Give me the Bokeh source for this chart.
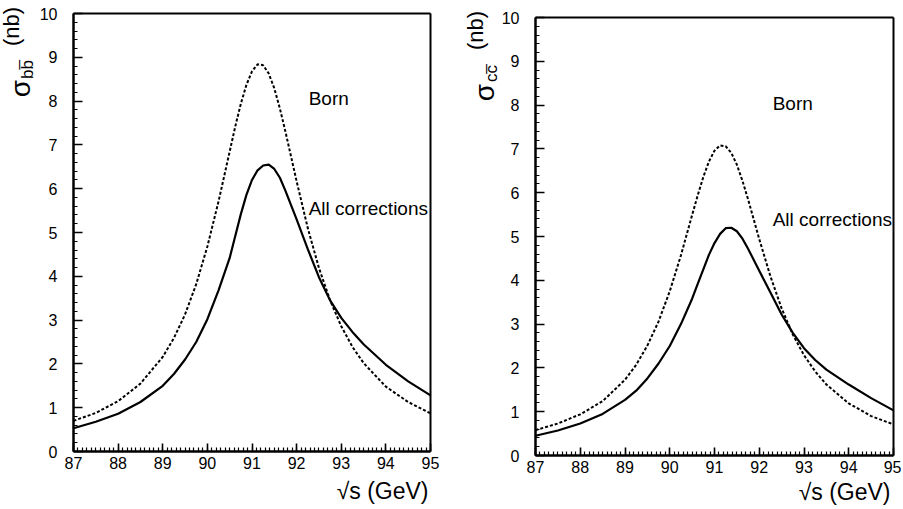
import math
from bokeh.plotting import figure
from bokeh.layouts import row
from bokeh.models import Label, Range1d, SingleIntervalTicker, LinearAxis
from bokeh.embed import file_html
from bokeh.resources import INLINE

# sqrt(s) grid (GeV)
energy = [87, 87.5, 88, 88.5, 89, 89.25, 89.5, 89.75, 90, 90.25, 90.5, 90.625,
          90.75, 90.875, 91, 91.125, 91.25, 91.375, 91.5, 91.625, 91.75, 92,
          92.25, 92.5, 92.75, 93, 93.25, 93.5, 94, 94.5, 95]

# b-bbar cross section (nb)
bb_born = [0.70, 0.88, 1.15, 1.55, 2.16, 2.59, 3.13, 3.82, 4.68, 5.71, 6.85, 7.42,
           7.94, 8.37, 8.68, 8.84, 8.82, 8.63, 8.29, 7.83, 7.30, 6.17,
           5.10, 4.19, 3.45, 2.86, 2.39, 2.02, 1.48, 1.13, 0.87]
bb_corr = [0.53, 0.68, 0.86, 1.13, 1.50, 1.77, 2.10, 2.50, 3.02, 3.68, 4.42, 4.92,
           5.42, 5.86, 6.20, 6.42, 6.53, 6.55, 6.45, 6.25, 5.95, 5.30,
           4.62, 3.98, 3.45, 3.05, 2.73, 2.45, 1.98, 1.60, 1.28]

# c-cbar cross section (nb)
cc_born = [0.58, 0.73, 0.94, 1.24, 1.73, 2.07, 2.51, 3.06, 3.75, 4.57, 5.49, 5.94,
           6.36, 6.71, 6.96, 7.08, 7.06, 6.91, 6.64, 6.27, 5.85, 4.94,
           4.09, 3.36, 2.76, 2.29, 1.92, 1.62, 1.19, 0.90, 0.71]
cc_corr = [0.45, 0.57, 0.73, 0.95, 1.27, 1.48, 1.76, 2.10, 2.50, 3.00, 3.58, 3.92,
           4.25, 4.58, 4.85, 5.06, 5.19, 5.20, 5.12, 4.95, 4.72, 4.22,
           3.72, 3.22, 2.80, 2.45, 2.18, 1.96, 1.62, 1.31, 1.03]

x_min, x_max = 87, 95
y_min, y_max = 0, 10
x_label = "\u221as (GeV)"
label_born = "Born"
label_corr = "All corrections"

FONT = "Liberation Sans"


def frame_axis(loc, bounds, ticker, show_labels, tin, tmin, lw):
    ax = LinearAxis(fixed_location=loc, bounds=bounds, ticker=ticker,
                    axis_line_width=lw, axis_line_color="black",
                    major_tick_in=tin, major_tick_out=0,
                    minor_tick_in=tmin, minor_tick_out=0,
                    major_tick_line_width=1.6, minor_tick_line_width=1.2,
                    major_tick_line_color="black", minor_tick_line_color="black",
                    major_label_text_font=FONT, major_label_text_font_size="16px",
                    major_label_text_color="black")
    if not show_labels:
        ax.major_label_text_color = None
        ax.major_tick_line_color = None
        ax.minor_tick_line_color = None
    return ax


def panel(born, corr, sub, W, H, box_left, box_right, box_top, box_bottom,
          ylab_pos, xlab_pos, born_pos, corr_pos):
    # the frame covers the whole canvas; the data box is placed inside it
    sx = (box_right - box_left) / (x_max - x_min)
    sy = (box_bottom - box_top) / (y_max - y_min)
    xr = Range1d(x_min - box_left / sx, x_max + (W - box_right) / sx)
    yr = Range1d(y_min - (H - box_bottom) / sy, y_max + box_top / sy)
    p = figure(frame_width=W, frame_height=H, x_range=xr, y_range=yr,
               output_backend="svg", toolbar_location=None,
               x_axis_location=None, y_axis_location=None,
               min_border_left=0, min_border_right=0,
               min_border_top=0, min_border_bottom=0)
    p.grid.visible = False
    p.outline_line_color = None
    p.background_fill_color = "white"
    p.border_fill_color = "white"

    p.line(energy, born, line_color="black", line_width=2, line_dash="3 2")
    p.line(energy, corr, line_color="black", line_width=2.2)

    xt = SingleIntervalTicker(interval=1, num_minor_ticks=10)
    yt = SingleIntervalTicker(interval=1, num_minor_ticks=5)
    xa = frame_axis(y_min, (x_min, x_max), xt, True, 8, 4, 2.5)
    xa.major_label_standoff = 5
    ya = frame_axis(x_min, (y_min, y_max), yt, True, 9, 4, 2.5)
    ya.major_label_standoff = 16
    p.add_layout(xa, "below")
    p.add_layout(ya, "left")
    p.add_layout(frame_axis(y_max, (x_min, x_max), xt, False, 0, 0, 2), "above")
    p.add_layout(frame_axis(x_max, (y_min, y_max), yt, False, 0, 0, 2), "right")

    (nbx, nby), (sgx, sgy), (sbx, sby) = ylab_pos
    p.add_layout(Label(x=nbx, y=H - nby, x_units="screen", y_units="screen", text="(nb)",
                       angle=math.pi / 2, text_align="center", text_baseline="middle",
                       text_font=FONT, text_font_size="22px", text_color="black"))
    p.add_layout(Label(x=sgx, y=H - sgy, x_units="screen", y_units="screen", text="\u03c3",
                       angle=math.pi / 2, text_align="center", text_baseline="middle",
                       text_font=FONT, text_font_size="28px", text_color="black"))
    p.add_layout(Label(x=sbx, y=H - sby, x_units="screen", y_units="screen", text=sub,
                       angle=math.pi / 2, text_align="center", text_baseline="middle",
                       text_font=FONT, text_font_size="17px", text_color="black"))
    p.add_layout(Label(x=xlab_pos[0], y=H - xlab_pos[1], x_units="screen", y_units="screen",
                       text=x_label, text_align="right", text_baseline="middle",
                       text_font=FONT, text_font_size="23px", text_color="black"))
    p.add_layout(Label(x=born_pos[0], y=born_pos[1], text=label_born,
                       text_align="left", text_baseline="middle",
                       text_font=FONT, text_font_size="19px", text_color="black"))
    p.add_layout(Label(x=corr_pos[0], y=corr_pos[1], text=label_corr,
                       text_align="left", text_baseline="middle",
                       text_font=FONT, text_font_size="19px", text_color="black"))
    return p


p1 = panel(bb_born, bb_corr, "bb\u0305", 460, 505, 73, 430, 13, 451,
           ((11, 26), (20, 88), (27, 69)), (428, 490),
           (92.27, 8.06), (92.27, 5.54))
p2 = panel(cc_born, cc_corr, "cc\u0305", 441, 505, 75, 433, 17, 455,
           ((15, 30), (24, 92), (31, 73)), (430, 491),
           (92.30, 8.03), (92.30, 5.39))

layout = row(p1, p2)
open("out.html", "w").write(file_html(layout, INLINE))
